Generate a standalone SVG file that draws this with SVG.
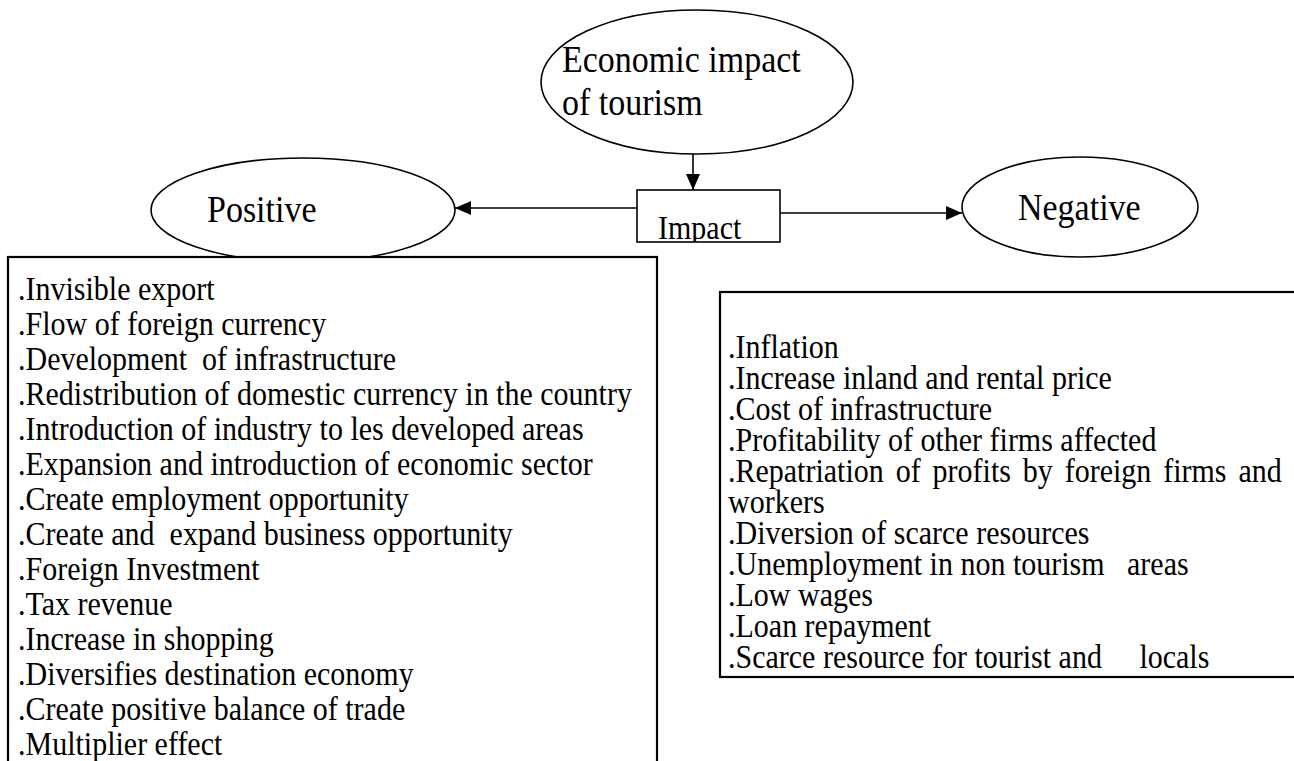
<svg xmlns="http://www.w3.org/2000/svg" width="1294" height="761" viewBox="0 0 1294 761">
  <style>
    .bg { fill: #ffffff; }
    .shape { fill: #ffffff; stroke: #000000; stroke-width: 1.6; }
    .panel { fill: #ffffff; stroke: #000000; stroke-width: 2.2; }
    .edge { fill: none; stroke: #000000; stroke-width: 1.6; }
    .title { font-family: "Liberation Serif", "Times New Roman", serif; font-size: 34px; fill: #000000; }
    .label { font-family: "Liberation Serif", "Times New Roman", serif; font-size: 30px; fill: #000000; }
    .item { font-family: "Liberation Serif", "Times New Roman", serif; font-size: 30px; fill: #000000; white-space: pre; }
  </style>
  <defs>
    <marker id="arrowBig" viewBox="0 0 10 10" refX="10" refY="5" markerWidth="16" markerHeight="14" markerUnits="userSpaceOnUse" orient="auto" preserveAspectRatio="none">
      <path d="M0,0 L10,5 L0,10 Z" fill="#000000"/>
    </marker>
    <clipPath id="impactClip">
      <rect x="637" y="190" width="143" height="52"/>
    </clipPath>
  </defs>

  <rect class="bg" x="0" y="0" width="1294" height="761"/>

  <!-- connectors -->
  <g id="connectors">
    <line class="edge" x1="693" y1="154" x2="693" y2="190" marker-end="url(#arrowBig)"/>
    <line class="edge" x1="637" y1="208" x2="455" y2="208" marker-end="url(#arrowBig)"/>
    <line class="edge" x1="780" y1="213" x2="962" y2="213" marker-end="url(#arrowBig)"/>
  </g>

  <!-- central topic -->
  <g id="node-economic-impact">
    <ellipse class="shape" cx="697" cy="82" rx="156" ry="72"/>
    <text class="title" transform="matrix(1 0 0 1.12 562 72)">Economic impact</text>
    <text class="title" transform="matrix(1 0 0 1.12 562 115)">of tourism</text>
  </g>

  <!-- hub box -->
  <g id="node-impact">
    <rect class="shape" x="637" y="190" width="143" height="52"/>
    <g clip-path="url(#impactClip)">
      <text class="label" transform="matrix(1 0 0 1.12 658 239)">Impact</text>
    </g>
  </g>

  <g id="node-positive">
    <ellipse class="shape" cx="303" cy="210" rx="152" ry="52"/>
    <text class="title" transform="matrix(1 0 0 1.12 207 222)">Positive</text>
  </g>

  <g id="node-negative">
    <ellipse class="shape" cx="1080" cy="207" rx="118" ry="50"/>
    <text class="title" transform="matrix(1 0 0 1.12 1018 220)">Negative</text>
  </g>

  <!-- positive effects list -->
  <g id="node-positive-list">
    <rect class="panel" x="8" y="257" width="649" height="520"/>
    <text class="item" transform="matrix(1 0 0 1.12 18 300)">.Invisible export</text>
    <text class="item" transform="matrix(1 0 0 1.12 18 335)">.Flow of foreign currency</text>
    <text class="item" transform="matrix(1 0 0 1.12 18 370)" xml:space="preserve">.Development  of infrastructure</text>
    <text class="item" transform="matrix(1 0 0 1.12 18 405)">.Redistribution of domestic currency in the country</text>
    <text class="item" transform="matrix(1 0 0 1.12 18 440)">.Introduction of industry to les developed areas</text>
    <text class="item" transform="matrix(1 0 0 1.12 18 475)">.Expansion and introduction of economic sector</text>
    <text class="item" transform="matrix(1 0 0 1.12 18 510)">.Create employment opportunity</text>
    <text class="item" transform="matrix(1 0 0 1.12 18 545)" xml:space="preserve">.Create and  expand business opportunity</text>
    <text class="item" transform="matrix(1 0 0 1.12 18 580)">.Foreign Investment</text>
    <text class="item" transform="matrix(1 0 0 1.12 18 615)">.Tax revenue</text>
    <text class="item" transform="matrix(1 0 0 1.12 18 650)">.Increase in shopping</text>
    <text class="item" transform="matrix(1 0 0 1.12 18 685)">.Diversifies destination economy</text>
    <text class="item" transform="matrix(1 0 0 1.12 18 720)">.Create positive balance of trade</text>
    <text class="item" transform="matrix(1 0 0 1.12 18 755)">.Multiplier effect</text>
  </g>

  <!-- negative effects list -->
  <g id="node-negative-list">
    <rect class="panel" x="720" y="292" width="600" height="385"/>
    <text class="item" transform="matrix(1 0 0 1.12 728 358)">.Inflation</text>
    <text class="item" transform="matrix(1 0 0 1.12 728 389)">.Increase inland and rental price</text>
    <text class="item" transform="matrix(1 0 0 1.12 728 420)">.Cost of infrastructure</text>
    <text class="item" transform="matrix(1 0 0 1.12 728 451)">.Profitability of other firms affected</text>
    <text class="item" transform="matrix(1 0 0 1.12 0 482)"><tspan x="728">.Repatriation</tspan><tspan x="895.7">of</tspan><tspan x="932.6">profits</tspan><tspan x="1022.8">by</tspan><tspan x="1064.7">foreign</tspan><tspan x="1163.2">firms</tspan><tspan x="1238.4">and</tspan></text>
    <text class="item" transform="matrix(1 0 0 1.12 728 513)">workers</text>
    <text class="item" transform="matrix(1 0 0 1.12 728 544)">.Diversion of scarce resources</text>
    <text class="item" transform="matrix(1 0 0 1.12 728 575)" xml:space="preserve">.Unemployment in non tourism   areas</text>
    <text class="item" transform="matrix(1 0 0 1.12 728 606)">.Low wages</text>
    <text class="item" transform="matrix(1 0 0 1.12 728 637)">.Loan repayment</text>
    <text class="item" transform="matrix(1 0 0 1.12 728 668)" xml:space="preserve">.Scarce resource for tourist and     locals</text>
  </g>
</svg>
